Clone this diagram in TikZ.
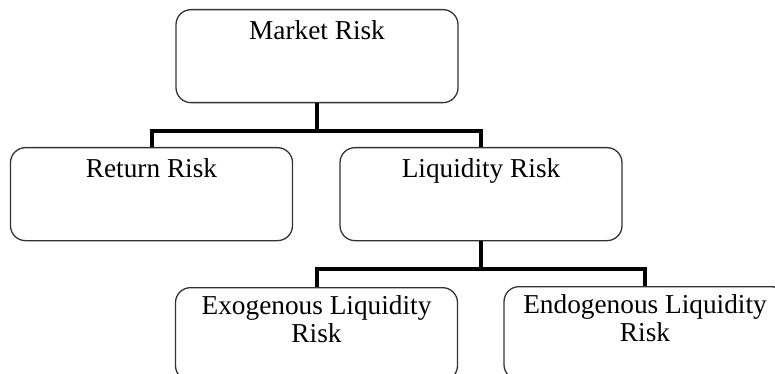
\documentclass[tikz,border=0pt]{standalone}
\usepackage{fontspec}
\setmainfont{Liberation Serif}
\definecolor{RiskEdge}{HTML}{333333}
\usepackage{tikz}
\usetikzlibrary{positioning}

\begin{document}
\begin{tikzpicture}[
  x=1pt,y=-1pt,
  box/.style={draw=RiskEdge,line width=1.3pt,rounded corners=15pt,anchor=north,inner sep=0pt,
    minimum width=282pt,text height=30pt,text depth=63pt,align=center,
    font=\fontsize{27.3}{28}\selectfont},
  twoline/.style={box,text height=55pt,text depth=38pt},
  link/.style={line width=4pt,draw=black,line join=miter}
]
  \useasboundingbox (0,0) rectangle (775,374);
  \node[box] (market) at (317,9) {Market Risk};
  \node[box] (ret) at (151.5,147) {Return Risk};
  \node[box] (liq) at (481,147) {Liquidity Risk};
  \node[twoline] (exo) at (316.5,287) {Exogenous Liquidity\\Risk};
  \node[twoline] (endo) at (645,286) {Endogenous Liquidity\\Risk};
  \foreach \a/\b in {market/ret,market/liq,liq/exo,liq/endo}{\draw[link] (\a.south) -- ++(0,28) -| (\b.north);}
\end{tikzpicture}
\end{document}
